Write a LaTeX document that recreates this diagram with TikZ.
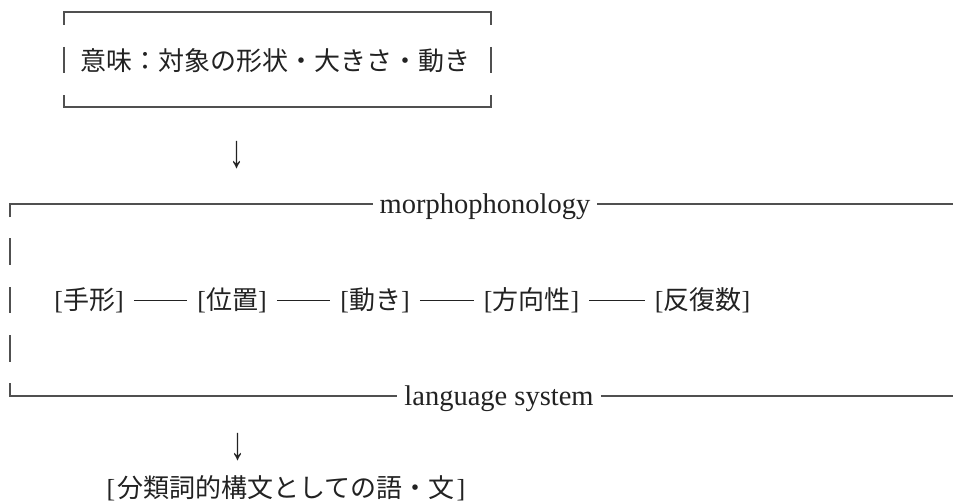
\documentclass[tikz,border=0pt]{standalone}
\usepackage{fontspec}
\setmainfont{Liberation Serif}
\newfontfamily\jp{Noto Sans CJK JP}
\usetikzlibrary{calc}
\definecolor{ink}{HTML}{222222}
\definecolor{rule}{HTML}{505050}
\newcommand{\lb}{{\rmfamily[}}
\newcommand{\rb}{{\rmfamily]}}
\tikzset{
  frame/.style={draw=rule, line width=1.2pt},
  jptext/.style={text=ink, inner sep=0pt, font=\fontsize{26}{30}\selectfont\jp},
  lattext/.style={text=ink, inner xsep=7pt, inner ysep=0pt, font=\fontsize{28.5}{32}\selectfont},
  item/.style={text=ink, inner sep=0pt, font=\fontsize{26}{30}\selectfont\jp},
  arrowglyph/.style={text=ink, inner sep=0pt, font=\fontsize{30}{34}\selectfont}
}
\begin{document}
\begin{tikzpicture}[x=1pt,y=-1pt]
\useasboundingbox (0,0) rectangle (953,503);

% ---- top box: meaning
\node[jptext] (meaning) at (275.5,60.5) {意味：対象の形状・大きさ・動き};
\coordinate (tl) at (64,12);
\coordinate (tr) at (491,12);
\coordinate (bl) at (64,107);
\coordinate (br) at (491,107);
\draw[frame] ($(tl)+(0,13)$) -- (tl) -- (tr) -- ($(tr)+(0,13)$);
\draw[frame] ($(bl)+(0,-12)$) -- (bl) -- (br) -- ($(br)+(0,-12)$);
\draw[frame] (64,47) -- (64,73);
\draw[frame] (491,47) -- (491,73);

% ---- arrow 1
\node[arrowglyph] (arr1) at (237,155.5) {\scalebox{1}[1.55]{↓}};

% ---- morphophonology frame
\coordinate (mL) at (10,204);
\coordinate (mR) at (953,204);
\node[lattext, anchor=base] (morph) at (485,213) {morphophonology};
\draw[frame] ($(mL)+(0,13)$) -- (mL) -- (morph.west |- mL);
\draw[frame] (morph.east |- mR) -- (mR);
\draw[frame] (10,238) -- (10,265);
\draw[frame] (10,287) -- (10,313);
\draw[frame] (10,335) -- (10,362);

% ---- middle row
\coordinate (row) at (0,300);
\node[item] (hand) at (89,300) {\lb 手形\rb};
\node[item] (loc)  at (232,300) {\lb 位置\rb};
\node[item] (mov)  at (375,300) {\lb 動き\rb};
\node[item] (dir)  at (531.5,300) {\lb 方向性\rb};
\node[item] (rep)  at (702.5,300) {\lb 反復数\rb};
\foreach \a/\b in {hand/loc, loc/mov, mov/dir, dir/rep}{
  \draw[draw=ink, line width=0.9pt, shorten <=10pt, shorten >=10pt] (\a.east |- row) -- (\b.west |- row);
}

% ---- language system frame
\coordinate (lL) at (10,396);
\coordinate (lR) at (953,396);
\node[lattext, anchor=base] (lang) at (499,405) {language system};
\draw[frame] ($(lL)+(0,-13)$) -- (lL) -- (lang.west |- lL);
\draw[frame] (lang.east |- lR) -- (lR);

% ---- arrow 2
\node[arrowglyph] (arr2) at (238,447) {\scalebox{1}[1.55]{↓}};

% ---- result
\node[item] (result) at (286,488) {\lb\kern2pt 分類詞的構文としての語・文\kern2pt\rb};
\end{tikzpicture}
\end{document}
